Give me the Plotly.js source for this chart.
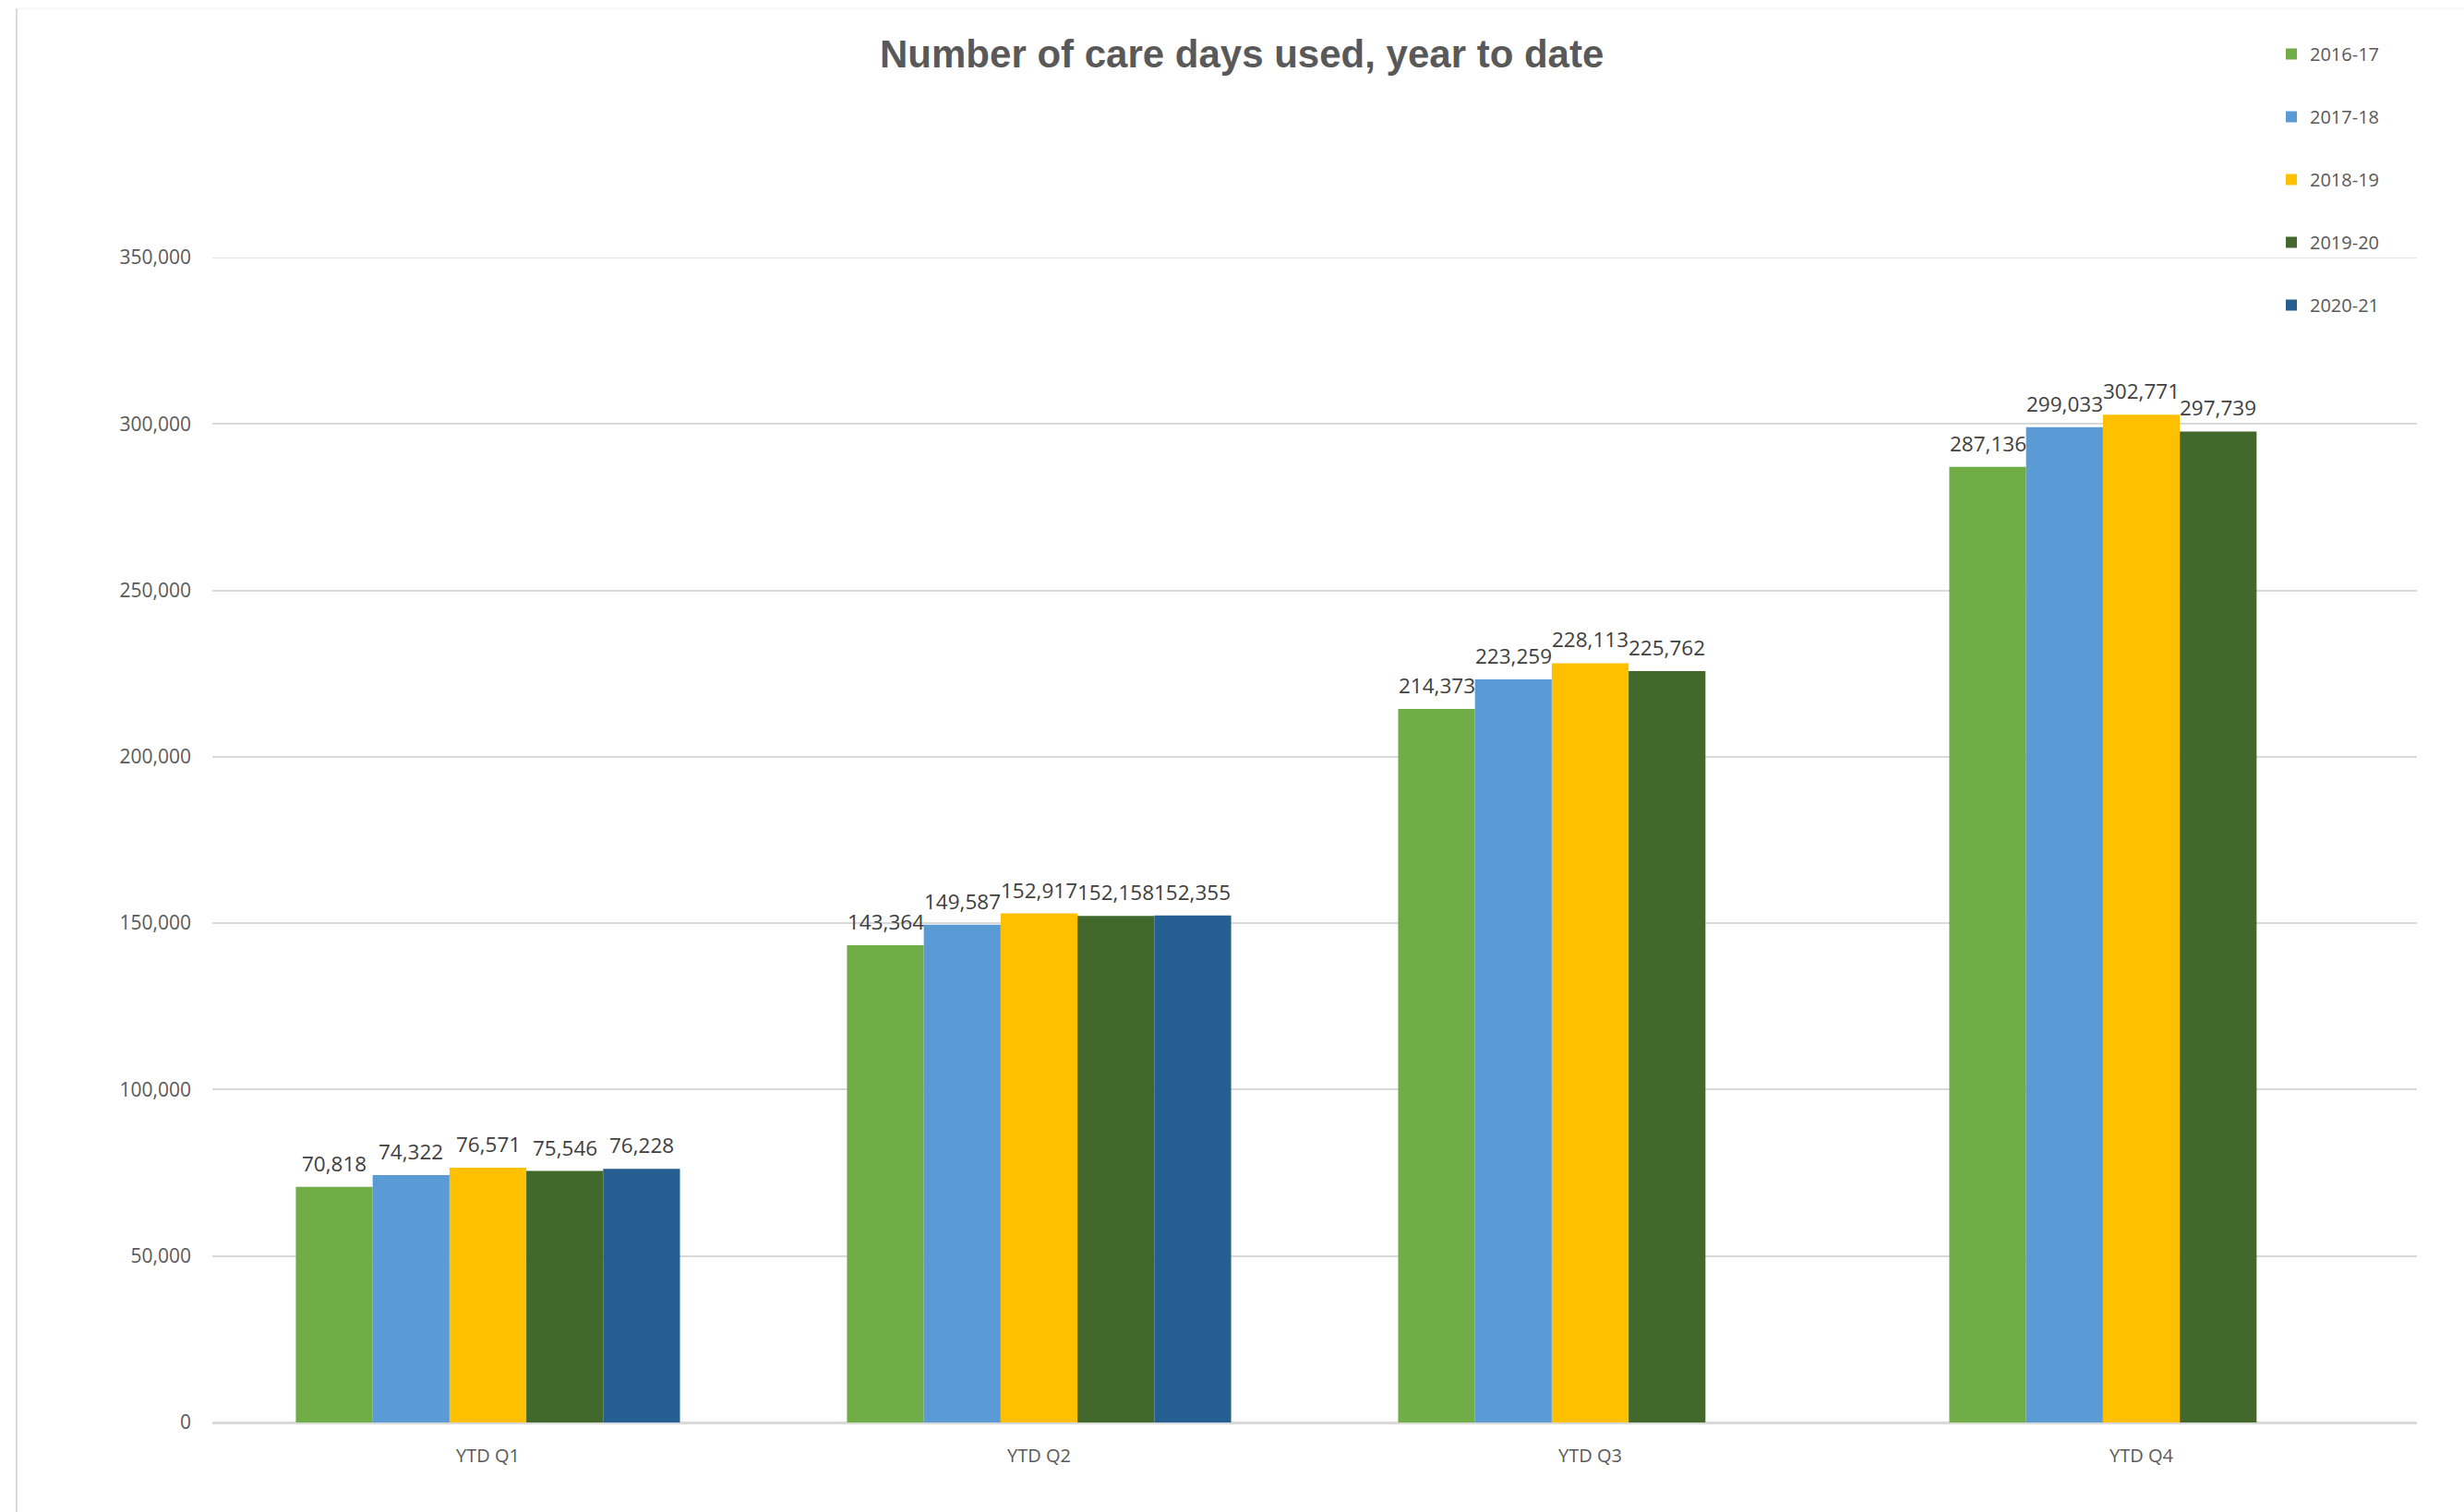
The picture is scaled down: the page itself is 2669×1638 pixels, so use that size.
<!DOCTYPE html>
<html>
<head>
<meta charset="utf-8">
<script src="https://cdn.plot.ly/plotly-3.0.1.min.js"></script>
<style>
  html, body { margin: 0; padding: 0; background: #ffffff; }
  #chart { width: 2669px; height: 1638px; }
</style>
</head>
<body>
<div id="chart"></div>
<script>
// ---- Data ----
const categories = ["YTD Q1", "YTD Q2", "YTD Q3", "YTD Q4"];
const seriesNames = ["2016-17", "2017-18", "2018-19", "2019-20", "2020-21"];
const values2016_17 = [70818, 143364, 214373, 287136];
const values2017_18 = [74322, 149587, 223259, 299033];
const values2018_19 = [76571, 152917, 228113, 302771];
const values2019_20 = [75546, 152158, 225762, 297739];
const values2020_21 = [76228, 152355, null, null];
const seriesColors = ["#70AD47", "#5B9BD5", "#FFC000", "#43682B", "#255E91"];
const yTickVals = [0, 50000, 100000, 150000, 200000, 250000, 300000, 350000];

const allValues = [values2016_17, values2017_18, values2018_19, values2019_20, values2020_21];

const fontFamily = '"Open Sans", "Noto Sans", sans-serif';
const textGrey = '#595959';
const bargap = 0.303;

const traces = seriesNames.map((name, i) => ({
  type: 'bar',
  name: name,
  legendgroup: 'g' + i,
  x: categories.map((c, k) => k),
  y: allValues[i],
  marker: { color: seriesColors[i], line: { width: 0 } },
  hovertemplate: name + ': %{y:,}<extra></extra>'
}));

// data labels placed with the axis scales (category index + group offset)
const nSeries = seriesNames.length;
const barUnit = (1 - bargap) / nSeries;
const annotations = [];
allValues.forEach((vals, i) => {
  vals.forEach((v, k) => {
    if (v == null) return;
    annotations.push({
      xref: 'x', yref: 'y',
      x: k + (i - (nSeries - 1) / 2) * barUnit,
      y: v,
      text: v.toLocaleString('en-US'),
      showarrow: false,
      xanchor: 'center', yanchor: 'bottom',
      yshift: 8,
      font: { family: fontFamily, size: 22.5, color: '#404040' }
    });
  });
});

// pixel helpers for decorations
const W = 2669, H = 1638;
const mL = 230, mR = 51, mT = 279, mB = 97;
const plotW = W - mL - mR, plotH = H - mT - mB;
const px2x = p => (p - mL) / plotW;
const px2y = p => (H - mB - p) / plotH;

const layout = {
  width: W,
  height: H,
  paper_bgcolor: '#ffffff',
  plot_bgcolor: '#ffffff',
  margin: { l: mL, r: mR, t: mT, b: mB, pad: 0 },
  barmode: 'group',
  bargap: bargap,
  bargroupgap: 0,
  title: {
    text: '<b>Number of care days used, year to date</b>',
    font: { family: '"Liberation Sans", Arial, sans-serif', size: 42, color: textGrey },
    xref: 'container', x: 0.504, xanchor: 'center',
    yref: 'container', y: 1 - 58 / H, yanchor: 'middle'
  },
  xaxis: {
    type: 'linear',
    range: [-0.5, categories.length - 0.5],
    tickvals: categories.map((c, k) => k),
    ticktext: categories,
    showgrid: false,
    showline: false,
    zeroline: false,
    ticks: '',
    tickfont: { family: fontFamily, size: 20, color: textGrey },
    ticklabelstandoff: 22,
    fixedrange: true
  },
  yaxis: {
    range: [0, 350000],
    tickvals: yTickVals,
    ticktext: yTickVals.map(v => v.toLocaleString('en-US')),
    showgrid: true,
    gridcolor: '#D9D9D9',
    gridwidth: 1.5,
    zeroline: true,
    zerolinecolor: '#D9D9D9',
    zerolinewidth: 3,
    showline: false,
    ticks: '',
    tickfont: { family: fontFamily, size: 21, color: textGrey },
    ticklabelstandoff: 22,
    fixedrange: true
  },
  showlegend: true,
  legend: {
    orientation: 'v',
    traceorder: 'grouped',
    tracegroupgap: 39,
    x: px2x(2462),
    xanchor: 'left',
    y: px2y(39),
    yanchor: 'top',
    font: { family: fontFamily, size: 20, color: textGrey },
    bgcolor: 'rgba(0,0,0,0)',
    borderwidth: 0
  },
  annotations: annotations,
  shapes: [
    { type: 'line', xref: 'paper', yref: 'y',
      x0: 0, x1: 1, y0: yTickVals[yTickVals.length - 1], y1: yTickVals[yTickVals.length - 1],
      line: { color: '#D9D9D9', width: 1.5 }, layer: 'below' },
    { type: 'line', xref: 'paper', yref: 'paper',
      x0: px2x(18), x1: px2x(18), y0: px2y(9), y1: px2y(H),
      line: { color: '#D9D9D9', width: 2 } },
    { type: 'line', xref: 'paper', yref: 'paper',
      x0: px2x(18), x1: px2x(W), y0: px2y(9), y1: px2y(9),
      line: { color: '#F2F2F2', width: 1 } }
  ],
  hovermode: 'closest'
};

Plotly.newPlot('chart', traces, layout, { displayModeBar: false });
</script>
</body>
</html>
